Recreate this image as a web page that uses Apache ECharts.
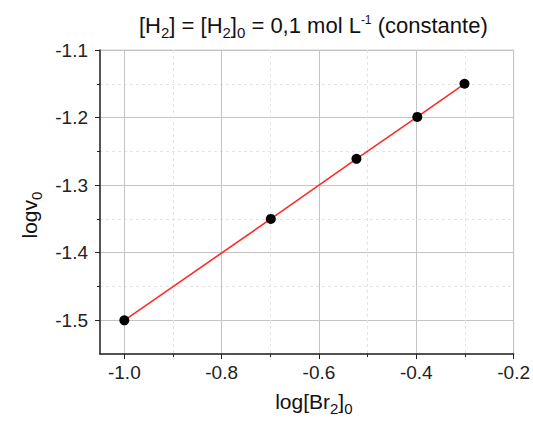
<!DOCTYPE html>
<html>
<head>
<meta charset="utf-8">
<script src="https://cdn.jsdelivr.net/npm/echarts@6/dist/echarts.min.js"></script>
<style>
  html, body { margin: 0; padding: 0; background: #ffffff; }
  #chart { width: 533px; height: 421px; }
</style>
</head>
<body>
<div id="chart"></div>
<script>
// Data
const logBr2 = [-1.0, -0.699, -0.523, -0.398, -0.301];
const logV0 = [-1.5, -1.35, -1.261, -1.199, -1.15];

// Tick values
const xMajorTicks = [-1.0, -0.8, -0.6, -0.4, -0.2];
const xMinorTicks = [-0.9, -0.7, -0.5, -0.3];
const yMajorTicks = [-1.5, -1.4, -1.3, -1.2, -1.1];
const yMinorTicks = [-1.45, -1.35, -1.25, -1.15];

const FONT = "'Liberation Sans', Arial, sans-serif";
const chart = echarts.init(document.getElementById('chart'), null, { renderer: 'svg' });

const seriesData = logBr2.map((x, i) => [x, logV0[i]]);

const baseX = { type: 'value', min: -1.05, max: -0.2, gridIndex: 0, position: 'bottom' };
const baseY = { type: 'value', min: -1.55, max: -1.1, gridIndex: 0, position: 'left' };

const nameRich = {
  n: { fontFamily: FONT, fontSize: 21, color: '#111', lineHeight: 24, fontWeight: 'normal' },
  s: { fontFamily: FONT, fontSize: 15, color: '#111', padding: [14, 0, 0, 0], lineHeight: 16, fontWeight: 'normal' }
};

chart.setOption({
  animation: false,
  backgroundColor: '#ffffff',
  title: {
    text: '{n|[H}{s|2}{n|] = [H}{s|2}{n|]}{s|0}{n| = 0,1 mol L}{p|-1}{n| (constante)}',
    left: 139,
    top: 13,
    padding: 0,
    textStyle: {
      fontFamily: FONT,
      fontWeight: 'normal',
      rich: {
        n: { fontFamily: FONT, fontSize: 22, color: '#111', lineHeight: 25, fontWeight: 'normal' },
        s: { fontFamily: FONT, fontSize: 15, color: '#111', padding: [14, 0, 0, 0], lineHeight: 16, fontWeight: 'normal' },
        p: { fontFamily: FONT, fontSize: 12, color: '#111', padding: [0, 0, 11, 0], lineHeight: 14, fontWeight: 'normal' }
      }
    }
  },
  grid: {
    left: 100, right: 18, top: 50, bottom: 64,
    show: true, borderColor: '#cfcfcf', borderWidth: 1, backgroundColor: 'transparent'
  },
  xAxis: [
    Object.assign({}, baseX, {
      name: '{n|log[Br}{s|2}{n|]}{s|0}',
      nameLocation: 'middle',
      nameGap: 33,
      nameTextStyle: { fontFamily: FONT, padding: [0, 0, 0, 14], rich: nameRich },
      axisLine: { show: true, onZero: false, lineStyle: { color: '#222', width: 1.5 } },
      axisTick: { show: true, customValues: xMajorTicks, length: 5, lineStyle: { color: '#222', width: 1 } },
      axisLabel: {
        show: true, customValues: xMajorTicks, margin: 9,
        fontFamily: FONT, fontSize: 19, color: '#222',
        formatter: v => v.toFixed(1)
      },
      splitLine: { show: true, lineStyle: { color: '#c4c4c4', width: 1 } }
    }),
    Object.assign({}, baseX, {
      axisLine: { show: false },
      axisTick: { show: true, customValues: xMinorTicks, length: 3, lineStyle: { color: '#222', width: 1 } },
      axisLabel: { show: false },
      splitLine: { show: true, lineStyle: { color: '#e4e4e4', width: 1, type: [3, 3] } }
    })
  ],
  yAxis: [
    Object.assign({}, baseY, {
      name: '{n|logv}{s|0}',
      nameLocation: 'middle',
      nameGap: 58,
      nameRotate: 90,
      nameTextStyle: { fontFamily: FONT, padding: [0, 26, 0, 0], rich: nameRich },
      axisLine: { show: true, onZero: false, lineStyle: { color: '#222', width: 1.5 } },
      axisTick: { show: true, customValues: yMajorTicks, length: 5, lineStyle: { color: '#222', width: 1 } },
      axisLabel: {
        show: true, customValues: yMajorTicks, margin: 12,
        fontFamily: FONT, fontSize: 19, color: '#222',
        formatter: v => v.toFixed(1)
      },
      splitLine: { show: true, lineStyle: { color: '#c4c4c4', width: 1 } }
    }),
    Object.assign({}, baseY, {
      axisLine: { show: false },
      axisTick: { show: true, customValues: yMinorTicks, length: 3, lineStyle: { color: '#222', width: 1 } },
      axisLabel: { show: false },
      splitLine: { show: true, lineStyle: { color: '#e4e4e4', width: 1, type: [3, 3] } }
    })
  ],
  series: [
    {
      type: 'line',
      xAxisIndex: 0,
      yAxisIndex: 0,
      data: seriesData,
      symbol: 'circle',
      symbolSize: 10,
      showSymbol: true,
      lineStyle: { color: '#ff2b2b', width: 1.6 },
      itemStyle: { color: '#000000', borderWidth: 0 },
      z: 5
    }
  ]
});
</script>
</body>
</html>
